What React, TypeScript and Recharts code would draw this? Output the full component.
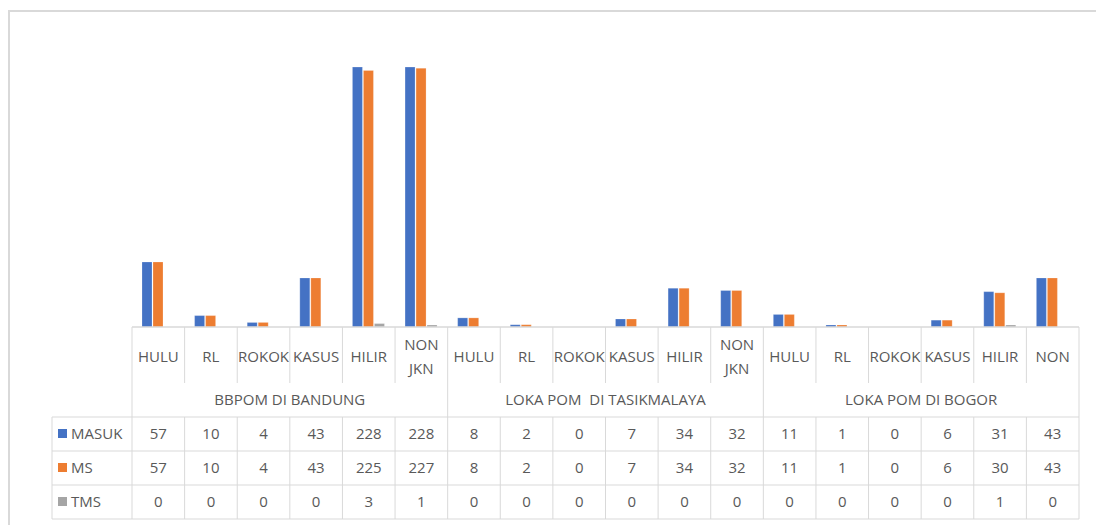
import { BarChart, Bar, XAxis, YAxis } from 'recharts';

const categories = [
  'HULU', 'RL', 'ROKOK', 'KASUS', 'HILIR', 'NON JKN',
  'HULU', 'RL', 'ROKOK', 'KASUS', 'HILIR', 'NON JKN',
  'HULU', 'RL', 'ROKOK', 'KASUS', 'HILIR', 'NON',
];
const groups = ['BBPOM DI BANDUNG', 'LOKA POM  DI TASIKMALAYA', 'LOKA POM DI BOGOR'];
const masuk = [57, 10, 4, 43, 228, 228, 8, 2, 0, 7, 34, 32, 11, 1, 0, 6, 31, 43];
const ms = [57, 10, 4, 43, 225, 227, 8, 2, 0, 7, 34, 32, 11, 1, 0, 6, 30, 43];
const tms = [0, 0, 0, 0, 3, 1, 0, 0, 0, 0, 0, 0, 0, 0, 0, 0, 1, 0];
const seriesNames = ['MASUK', 'MS', 'TMS'];
const seriesColors = ['#4472C4', '#ED7D31', '#A5A5A5'];
const seriesValues = [masuk, ms, tms];
const yMax = 250;

const data = categories.map((cat, i) => ({
  key: `${i}`,
  cat,
  group: groups[Math.floor(i / 6)],
  MASUK: masuk[i],
  MS: ms[i],
  TMS: tms[i],
}));

// layout
const W = 1096;
const H = 525;
const PLOT_LEFT = 132;
const PLOT_RIGHT = 1079;
const PLOT_TOP = 42;
const AXIS_Y = 327;
const COL_W = (PLOT_RIGHT - PLOT_LEFT) / categories.length;
const CAT_ROW_END = 383;
const GROUP_ROW_END = 417;
const ROW_H = 34;
const LEGEND_LEFT = 52;
const GRID = '#d9d9d9';
const TEXT = '#595959';
const FONT = "'Open Sans', sans-serif";
const FS = 15;
const CAP = FS * 0.357; // half cap height, to centre text vertically

function TableTick(props: any) {
  const { x, index } = props;
  const i: number = index;
  const left = x - COL_W / 2;
  const right = x + COL_W / 2;
  const tableBottom = GROUP_ROW_END + ROW_H * seriesNames.length;
  const lines = categories[i].split(' ');
  const txt = { fontFamily: FONT, fontSize: FS, fill: TEXT };
  const groupEnd = (i + 1) % 6 === 0;

  return (
    <g>
      {i === 0 && (
        <g>
          <line x1={left} x2={left} y1={AXIS_Y} y2={tableBottom} stroke={GRID} />
          <line x1={LEGEND_LEFT} x2={LEGEND_LEFT} y1={GROUP_ROW_END} y2={tableBottom} stroke={GRID} />
          {[0, 1, 2, 3].map((r) => (
            <line
              key={r}
              x1={LEGEND_LEFT}
              x2={PLOT_RIGHT}
              y1={GROUP_ROW_END + r * ROW_H}
              y2={GROUP_ROW_END + r * ROW_H}
              stroke={GRID}
            />
          ))}
          {seriesNames.map((name, r) => {
            const cy = GROUP_ROW_END + r * ROW_H + ROW_H / 2;
            return (
              <g key={name}>
                <rect x={58} y={cy - 5} width={9} height={9} fill={seriesColors[r]} />
                <text x={71} y={cy + CAP} {...txt}>
                  {name}
                </text>
              </g>
            );
          })}
        </g>
      )}

      {groupEnd ? (
        <line x1={right} x2={right} y1={AXIS_Y} y2={tableBottom} stroke={GRID} />
      ) : (
        <g>
          <line x1={right} x2={right} y1={AXIS_Y} y2={CAT_ROW_END} stroke={GRID} />
          <line x1={right} x2={right} y1={GROUP_ROW_END} y2={tableBottom} stroke={GRID} />
        </g>
      )}

      {lines.length === 1 ? (
        <text x={x} y={357 + CAP} textAnchor="middle" {...txt}>
          {lines[0]}
        </text>
      ) : (
        lines.map((l, k) => (
          <text key={k} x={x} y={345 + k * 23.5 + CAP} textAnchor="middle" {...txt}>
            {l}
          </text>
        ))
      )}

      {i % 6 === 0 && (
        <text
          x={left + COL_W * 3}
          y={400 + CAP}
          textAnchor="middle"
          style={{ whiteSpace: 'pre' }}
          {...txt}
        >
          {groups[i / 6]}
        </text>
      )}

      {seriesValues.map((vals, r) => (
        <text
          key={r}
          x={x}
          y={GROUP_ROW_END + r * ROW_H + ROW_H / 2 + CAP}
          textAnchor="middle"
          {...txt}
        >
          {vals[i]}
        </text>
      ))}
    </g>
  );
}

export default function App() {
  return (
    <div style={{ position: 'absolute', left: 0, top: 0, width: W, height: H, background: '#fff' }}>
      <div
        style={{
          position: 'absolute',
          left: 8,
          top: 10,
          width: W - 8,
          height: H - 10,
          borderTop: `2px solid ${GRID}`,
          borderLeft: `2px solid ${GRID}`,
          boxSizing: 'border-box',
        }}
      />
      <div style={{ position: 'absolute', left: 0, top: 0 }}>
        <BarChart
          width={W}
          height={H}
          data={data}
          margin={{ top: PLOT_TOP, right: W - PLOT_RIGHT, left: PLOT_LEFT, bottom: 0 }}
          barCategoryGap="19%"
          barGap={1}
        >
          <YAxis hide domain={[0, yMax]} />
          <XAxis
            dataKey="key"
            height={H - AXIS_Y}
            interval={0}
            tickLine={false}
            tickSize={0}
            tickMargin={0}
            axisLine={{ stroke: GRID, strokeWidth: 1.5 }}
            tick={(p: any) => <TableTick {...p} />}
          />
          {seriesNames.map((name, r) => (
            <Bar
              key={name}
              dataKey={name}
              fill={seriesColors[r]}
              stroke="#ffffff"
              strokeOpacity={0.35}
              strokeWidth={0.6}
              minPointSize={(v: any) => (v > 0 ? 2 : 0)}
              isAnimationActive={false}
            />
          ))}
        </BarChart>
      </div>
    </div>
  );
}
